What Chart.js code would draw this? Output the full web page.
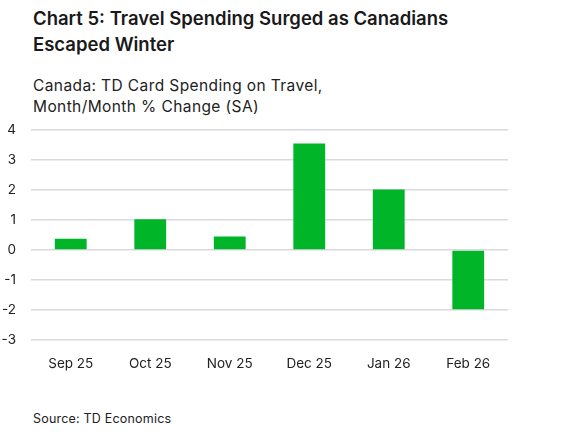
<!DOCTYPE html>
<html>
<head>
<meta charset="utf-8">
<script src="https://cdn.jsdelivr.net/npm/chart.js@4"></script>
<style>
  body { margin: 0; width: 579px; height: 432px; background: #fff; font-family: Inter, "Noto Sans", sans-serif; color: #1a1a1a; position: relative; overflow: hidden; }
  #title { position: absolute; left: 33px; top: 5px; font-size: 18.5px; font-weight: 600; line-height: 26px; }
  #sub { position: absolute; left: 33px; top: 75px; font-size: 15.5px; letter-spacing: 0.4px; line-height: 21px; color: #222; }
  #wrap { position: absolute; left: 0; top: 107px; width: 520px; height: 273px; }
  #source { position: absolute; left: 33px; top: 411px; font-size: 12.5px; letter-spacing: 0.2px; color: #222; }
</style>
</head>
<body>
<div id="title">Chart 5: Travel Spending Surged as Canadians<br>Escaped Winter</div>
<div id="sub">Canada: TD Card Spending on Travel,<br>Month/Month % Change (SA)</div>
<div id="wrap"><canvas id="travelChart"></canvas></div>
<div id="source">Source: TD Economics</div>
<script>
const months = ['Sep 25', 'Oct 25', 'Nov 25', 'Dec 25', 'Jan 26', 'Feb 26'];
const travelChange = [0.37, 1.02, 0.45, 3.55, 2.02, -1.98];
const yTicks = [-3, -2, -1, 0, 1, 2, 3, 4];

const ctx = document.getElementById('travelChart');

new Chart(ctx, {
    type: 'bar',
    data: {
        labels: months,
        datasets: [{
            data: travelChange,
            backgroundColor: '#00b528',
            categoryPercentage: 1,
            barPercentage: 0.4
        }]
    },
    options: {
        responsive: true,
        maintainAspectRatio: false,
        animation: false,
        layout: { padding: { top: 12, right: 12, left: 0, bottom: 0 } },
        plugins: { legend: { display: false }, tooltip: { enabled: false } },
        scales: {
            x: {
                grid: { display: false },
                border: { display: false },
                ticks: { color: '#222', font: { family: 'Inter', size: 13.5 }, padding: 8 }
            },
            y: {
                min: -3,
                max: 4,
                afterBuildTicks: function (axis) {
                    axis.ticks = yTicks.map(v => ({ value: v }));
                },
                afterFit: function (axis) { axis.width = 31; },
                grid: { color: '#d9d9de', lineWidth: 1.5, drawTicks: false },
                border: { display: false },
                ticks: { color: '#222', font: { family: 'Inter', size: 13.5 }, padding: 15 }
            }
        }
    }
});
</script>
</body>
</html>
